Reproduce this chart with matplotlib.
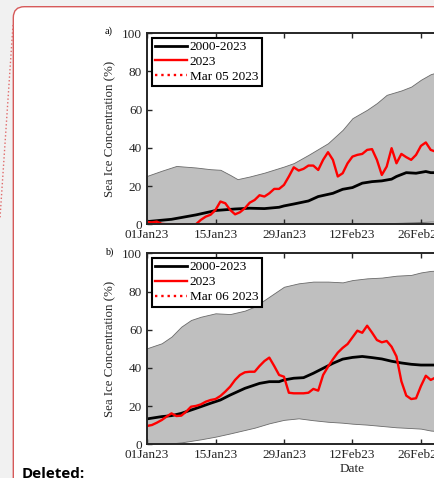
import pandas as pd
import matplotlib
matplotlib.use("Agg")
import matplotlib.pyplot as plt
from matplotlib.patches import FancyBboxPatch
from matplotlib.lines import Line2D
from matplotlib.transforms import IdentityTransform
import matplotlib.dates as mdates

plt.rcParams['font.family'] = ['Liberation Serif', 'DejaVu Serif']

START = pd.Timestamp('2023-01-01')

# ---- panel a) : daily 2023 values from 01Jan23
sic2023_a = [1.2, 1.0, 1.4, 0.2, 0, 0, 0, 0, 0, 0,
             0, 2.3, 4.0, 5.0, 7.5, 11.9, 11.0, 7.5, 5.2, 6.3,
             8.4, 11.3, 12.7, 15.2, 14.5, 16.2, 18.5, 18.5, 20.6, 25.0,
             29.8, 28.1, 29.0, 30.7, 30.7, 28.4, 33.7, 37.7, 33.7, 25.0,
             26.7, 31.9, 35.4, 36.3, 36.8, 38.9, 39.3, 33.7, 25.8, 30.2,
             39.8, 31.9, 36.8, 35.1, 33.7, 36.3, 41.0, 42.8, 38.9, 38.0]
mean_days_a = [0, 5, 10, 13, 14, 18, 21, 24, 27, 28, 30, 33, 35, 38, 40, 42,
               44, 46, 48, 50, 51, 53, 55, 57, 58, 60]
mean_a = [1.4, 2.6, 4.9, 6.6, 7.2, 8.0, 8.4, 8.2, 8.9, 9.6, 10.6, 12.2, 14.5,
          16.2, 18.3, 19.2, 21.5, 22.3, 22.7, 23.6, 25.0, 27.0, 26.7, 27.6, 27.0, 27.0]
band_days_a = [0, 3, 6, 10, 13, 15, 17, 18.5, 21, 24, 28, 30, 33, 37, 40, 42,
               45, 47, 49, 52, 54, 56, 58, 60]
upper_a = [25.3, 28.0, 30.5, 29.7, 28.8, 28.5, 25.8, 23.6, 25.0, 27.0, 30.2,
           32.0, 36.3, 42.4, 49.4, 55.5, 59.9, 63.4, 67.7, 70.0, 72.0, 75.6, 78.5, 80.0]
lower_a = [0.1, 0.1, 0.1, 0.1, 0.1, 0.1, 0.1, 0.1, 0.1, 0.1, 0.1,
           0.1, 0.2, 0.2, 0.3, 0.3, 0.4, 0.5, 0.6, 0.8, 1.0, 1.2, 1.4, 1.4]
event_a = '2023-03-05'

# ---- panel b) : daily 2023 values from 01Jan23
sic2023_b = [9.6, 10.1, 11.3, 12.7, 14.5, 16.2, 14.8, 15.0, 17.1, 19.7,
             20.1, 20.9, 22.3, 23.2, 23.7, 25.3, 27.6, 30.2, 33.7, 36.3,
             37.7, 38.0, 38.0, 41.0, 43.6, 45.4, 41.0, 36.3, 35.4, 27.0,
             26.7, 26.7, 26.7, 27.0, 29.0, 28.1, 36.3, 40.6, 44.5, 48.0,
             50.5, 52.5, 56.0, 59.5, 58.4, 62.1, 58.5, 54.6, 53.4, 54.1,
             51.1, 46.0, 33.0, 25.5, 23.7, 24.1, 30.5, 35.9, 33.7, 35.0]
mean_days_b = [0, 3, 5, 7, 10, 13, 15, 17, 20, 23, 25, 27, 28, 30, 32, 34, 36,
               38, 40, 42, 44, 46, 48, 50, 52, 54, 56, 58, 60]
mean_b = [13.3, 14.5, 15.0, 16.2, 18.8, 21.5, 23.2, 25.8, 29.3, 31.9, 32.8,
          32.8, 33.7, 34.6, 34.9, 37.2, 39.8, 42.4, 44.6, 45.5, 46.0, 45.4,
          44.7, 43.5, 42.6, 41.9, 41.5, 41.5, 41.5]
band_days_b = [0, 3, 5, 7, 9, 11, 14, 17, 20, 22, 25, 28, 31, 34, 37, 40, 42,
               45, 48, 51, 54, 56, 58, 60]
upper_b = [50.3, 52.9, 56.4, 61.6, 65.1, 66.8, 68.6, 68.2, 70.0, 72.1, 77.3,
           82.5, 84.3, 85.2, 85.2, 84.8, 86.0, 86.9, 87.3, 88.3, 88.7, 90.0, 90.8, 91.0]
lower_b = [0.2, 0.3, 0.5, 1.0, 1.8, 2.6, 4.0, 5.7, 7.5, 8.7, 11.0, 12.8, 13.6,
           12.6, 11.8, 11.3, 10.8, 10.3, 9.6, 8.9, 8.5, 8.2, 7.2, 6.8]
event_b = '2023-03-06'

xticks = pd.date_range('2023-01-01', periods=7, freq='14D')


def to_dates(days):
    return START + pd.to_timedelta(days, unit='D')


def draw_panel(ax, sic, mean_days, mean, band_days, lo, hi, event):
    ax.fill_between(to_dates(band_days), lo, hi, facecolor='#bfbfbf',
                    edgecolor='#6a6a6a', linewidth=0.6)
    ax.plot(to_dates(mean_days), mean, color='k', lw=2, label='2000-2023')
    ax.plot(to_dates(list(range(len(sic)))), sic, color='red', lw=1.7, label='2023')
    ev = pd.Timestamp(event)
    ax.axvline(ev, color='red', ls=':', lw=1.7, label=ev.strftime('%b %d %Y'))
    ax.set_xlim(START, pd.Timestamp('2023-03-25'))
    ax.set_ylim(0, 100)
    ax.set_yticks([0, 20, 40, 60, 80, 100])
    ax.set_xticks(xticks)
    ax.xaxis.set_major_formatter(mdates.DateFormatter('%d%b%y'))
    ax.tick_params(direction='in', length=3.5, width=1, top=True, right=True,
                   labelsize=9.5, pad=3.5, colors='#262626', labelcolor='#262626')
    for s in ax.spines.values():
        s.set_linewidth(1.4)
        s.set_color('#262626')
    ax.set_ylabel('Sea Ice Concentration (%)', fontsize=9.3, color='#262626')
    leg = ax.legend(loc='upper left', fontsize=9.5, fancybox=False, framealpha=1,
                    edgecolor='k', borderaxespad=0.35, borderpad=0.25,
                    labelspacing=0.2, handlelength=2.4, handletextpad=0.25)
    leg.get_frame().set_linewidth(1.5)


fig = plt.figure(figsize=(4.35, 4.78), dpi=100, facecolor='#f1f1f1')

# comment box behind the figure content
box = FancyBboxPatch((13.3, -60), 600, 478 - 6.7 + 60,
                     boxstyle='round,pad=0,rounding_size=11',
                     transform=IdentityTransform(), facecolor='white',
                     edgecolor='#d65a5a', linewidth=1.0, zorder=-5)
fig.patches.append(box)
fig.lines.append(Line2D([13, 0], [478 - 25, 478 - 218], transform=IdentityTransform(),
                        color='#e06a6a', ls=':', lw=1.0))

ax_a = fig.add_axes([0.338, 0.5308, 0.9445, 0.400])
ax_b = fig.add_axes([0.338, 0.0705, 0.9445, 0.3995])

draw_panel(ax_a, sic2023_a, mean_days_a, mean_a, band_days_a, lower_a, upper_a, event_a)
draw_panel(ax_b, sic2023_b, mean_days_b, mean_b, band_days_b, lower_b, upper_b, event_b)
ax_b.set_xlabel('Date', fontsize=9.5, color='#262626', labelpad=1)

fig.text(105 / 435, 1 - 31 / 478, 'a)', fontsize=7.3, va='center')
fig.text(105 / 435, 1 - 252 / 478, 'b)', fontsize=7.3, va='center')
fig.text(22 / 435, 1 - 467 / 478, 'Deleted:', fontsize=11, fontweight='bold',
         family=['Open Sans', 'DejaVu Sans'], va='top')

fig.savefig('out.png', dpi=100, facecolor=fig.get_facecolor())
